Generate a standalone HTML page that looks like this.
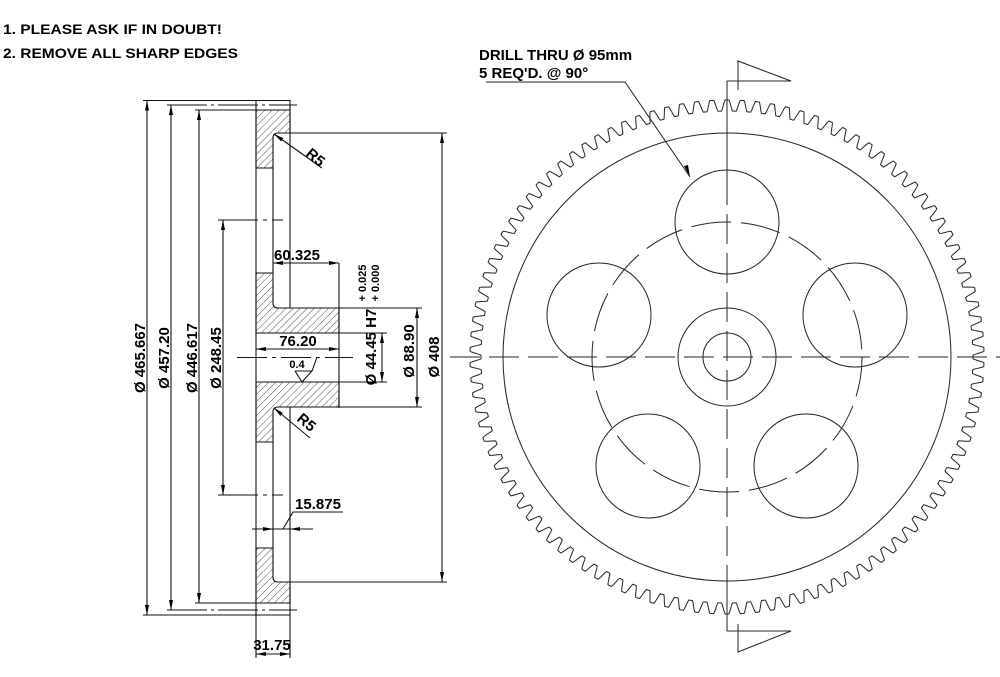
<!DOCTYPE html>
<html><head><meta charset="utf-8"><style>
html,body{margin:0;padding:0;background:#fff;}
svg{display:block;}
text{font-family:"Liberation Sans",Arial,sans-serif;font-weight:bold;fill:#000;}
</style></head><body>
<svg id="s" width="1000" height="677" viewBox="0 0 1000 677" xmlns="http://www.w3.org/2000/svg">
<defs>
<pattern id="h" patternUnits="userSpaceOnUse" width="5" height="5" patternTransform="rotate(45)">
<line x1="0" y1="0" x2="0" y2="5" stroke="#222" stroke-width="0.8"/>
</pattern>
<marker id="a" viewBox="0 0 10 6" refX="10" refY="3" markerWidth="10" markerHeight="6" orient="auto-start-reverse" markerUnits="userSpaceOnUse">
<path d="M0,1 L10,3 L0,5 z" fill="#000"/>
</marker>
</defs>

<text x="3" y="34" font-size="14" textLength="219" lengthAdjust="spacingAndGlyphs">1. PLEASE ASK IF IN DOUBT!</text>
<text x="3" y="58" font-size="14" textLength="235" lengthAdjust="spacingAndGlyphs">2. REMOVE ALL SHARP EDGES</text>

<g stroke="#111" stroke-width="1.1" fill="none">
<path d="M256,110 H290 V133 H278 Q273,133 273,138 V168 H256 Z" fill="url(#h)"/>
<path d="M256,273 H273 V303 Q273,308 278,308 H339 V333 H256 Z" fill="url(#h)"/>
<path d="M256,382 H339 V407 H278 Q273,407 273,412 V442 H256 Z" fill="url(#h)"/>
<path d="M256,548 H273 V577 Q273,582 278,582 H290 V603 H256 Z" fill="url(#h)"/>
<line x1="256" y1="100" x2="256" y2="658"/>
<line x1="290" y1="100" x2="290" y2="308"/>
<line x1="290" y1="407" x2="290" y2="658"/>
<line x1="273" y1="168" x2="273" y2="273"/>
<line x1="273" y1="442" x2="273" y2="548"/>
<line x1="339" y1="263" x2="339" y2="408"/>
<line x1="143" y1="100.5" x2="290" y2="100.5"/>
<line x1="167" y1="105" x2="297" y2="105" stroke-dasharray="40,4,3,4"/>
<line x1="195" y1="110" x2="256" y2="110"/>
<line x1="143" y1="615" x2="290" y2="615"/>
<line x1="167" y1="610" x2="297" y2="610" stroke-dasharray="40,4,3,4"/>
<line x1="195" y1="603" x2="256" y2="603"/>
<line x1="290" y1="133" x2="447" y2="133"/>
<line x1="290" y1="582" x2="447" y2="582"/>
<line x1="218" y1="220" x2="283" y2="220" stroke-dasharray="40,5,4,5"/>
<line x1="218" y1="495" x2="283" y2="495" stroke-dasharray="40,5,4,5"/>
<line x1="339" y1="308" x2="422" y2="308"/>
<line x1="339" y1="407" x2="422" y2="407"/>
<line x1="339" y1="333" x2="387" y2="333"/>
<line x1="339" y1="382" x2="387" y2="382"/>
<line x1="237" y1="357.5" x2="353" y2="357.5" stroke-dasharray="30,5,4,5"/>
<line x1="147" y1="100.5" x2="147" y2="615" marker-start="url(#a)" marker-end="url(#a)"/>
<line x1="171" y1="105" x2="171" y2="610" marker-start="url(#a)" marker-end="url(#a)"/>
<line x1="199" y1="110" x2="199" y2="603" marker-start="url(#a)" marker-end="url(#a)"/>
<line x1="223" y1="220" x2="223" y2="495" marker-start="url(#a)" marker-end="url(#a)"/>
<line x1="442" y1="133" x2="442" y2="582" marker-start="url(#a)" marker-end="url(#a)"/>
<line x1="417" y1="308" x2="417" y2="407" marker-start="url(#a)" marker-end="url(#a)"/>
<line x1="382" y1="333" x2="382" y2="382" marker-start="url(#a)" marker-end="url(#a)"/>
<line x1="273" y1="263" x2="339" y2="263" marker-start="url(#a)" marker-end="url(#a)"/>
<line x1="256" y1="349" x2="339" y2="349" marker-start="url(#a)" marker-end="url(#a)"/>
<line x1="252" y1="529" x2="273" y2="529" marker-end="url(#a)"/>
<line x1="313" y1="529" x2="290" y2="529" marker-end="url(#a)"/>
<line x1="273" y1="529" x2="290" y2="529"/>
<polyline points="343,512 293,512 283,529"/>
<line x1="256" y1="654" x2="290" y2="654" marker-start="url(#a)" marker-end="url(#a)"/>
<line x1="322" y1="168" x2="274" y2="134" marker-end="url(#a)"/>
<line x1="310" y1="438" x2="274" y2="408" marker-end="url(#a)"/>
<polyline points="295,371 302,382 312,371 317,357"/>
<line x1="295" y1="371" x2="312" y2="371"/>
</g>

<text x="297" y="260" font-size="15" text-anchor="middle">60.325</text>
<text x="298" y="346" font-size="15" text-anchor="middle">76.20</text>
<text x="297" y="368" font-size="11" text-anchor="middle">0.4</text>
<text x="318" y="509" font-size="15" text-anchor="middle">15.875</text>
<text x="272" y="650" font-size="15" text-anchor="middle">31.75</text>
<text transform="translate(305,155) rotate(40)" font-size="15">R5</text>
<text transform="translate(296,420) rotate(40)" font-size="15">R5</text>

<text transform="translate(145,358) rotate(-90)" font-size="15" text-anchor="middle">Ø 465.667</text>
<text transform="translate(169,358) rotate(-90)" font-size="15" text-anchor="middle">Ø 457.20</text>
<text transform="translate(197,358) rotate(-90)" font-size="15" text-anchor="middle">Ø 446.617</text>
<text transform="translate(221,358) rotate(-90)" font-size="15" text-anchor="middle">Ø 248.45</text>
<text transform="translate(376,347) rotate(-90)" font-size="15" text-anchor="middle">Ø 44.45 H7</text>
<text transform="translate(366,283) rotate(-90)" font-size="11" text-anchor="middle">+ 0.025</text>
<text transform="translate(379,283) rotate(-90)" font-size="11" text-anchor="middle">+ 0.000</text>
<text transform="translate(414,351) rotate(-90)" font-size="15" text-anchor="middle">Ø 88.90</text>
<text transform="translate(439,357) rotate(-90)" font-size="15" text-anchor="middle">Ø 408</text>

<g stroke="#222" stroke-width="1" fill="none">
<path id="teeth"/>
<circle cx="727" cy="357" r="224"/>
<circle cx="727" cy="357" r="135" stroke-dasharray="40,10"/>
<circle cx="727" cy="357" r="49"/>
<circle cx="727" cy="357" r="24"/>
<circle cx="727" cy="222" r="52"/>
<circle cx="599" cy="315" r="52"/>
<circle cx="855" cy="315" r="52"/>
<circle cx="648" cy="466" r="52"/>
<circle cx="806" cy="466" r="52"/>
<line x1="450" y1="357" x2="1000" y2="357" stroke-dasharray="30,9"/>
<line x1="727" y1="81" x2="727" y2="175"/>
<line x1="727" y1="175" x2="727" y2="575" stroke-dasharray="30,9"/>
<line x1="727" y1="575" x2="727" y2="631"/>
<polyline points="727,81 791,81 738,61 738,90"/>
<polyline points="727,631 791,631 738,652 738,624"/>
<polyline points="486,82 625,82 690,177"/>
</g>
<path d="M690,177 L684,166 L688,165 z" fill="#000"/>
<text x="479" y="60" font-size="15">DRILL THRU Ø 95mm</text>
<text x="479" y="78" font-size="15">5 REQ'D. @ 90°</text>
</svg>
<script>
(function(){
var cx=727,cy=357,N=106,pts=[],M=N*24;
for(var i=0;i<=M;i++){
 var t=i/M*2*Math.PI;
 var c=Math.cos(N*t)*1.5; if(c>1)c=1; if(c<-1)c=-1;
 var r=251.5+5.5*c;
 pts.push((cx+r*Math.sin(t)).toFixed(2)+","+(cy-r*Math.cos(t)).toFixed(2));
}
document.getElementById("teeth").setAttribute("d","M"+pts.join(" L")+"Z");
})();
</script>
</body></html>
